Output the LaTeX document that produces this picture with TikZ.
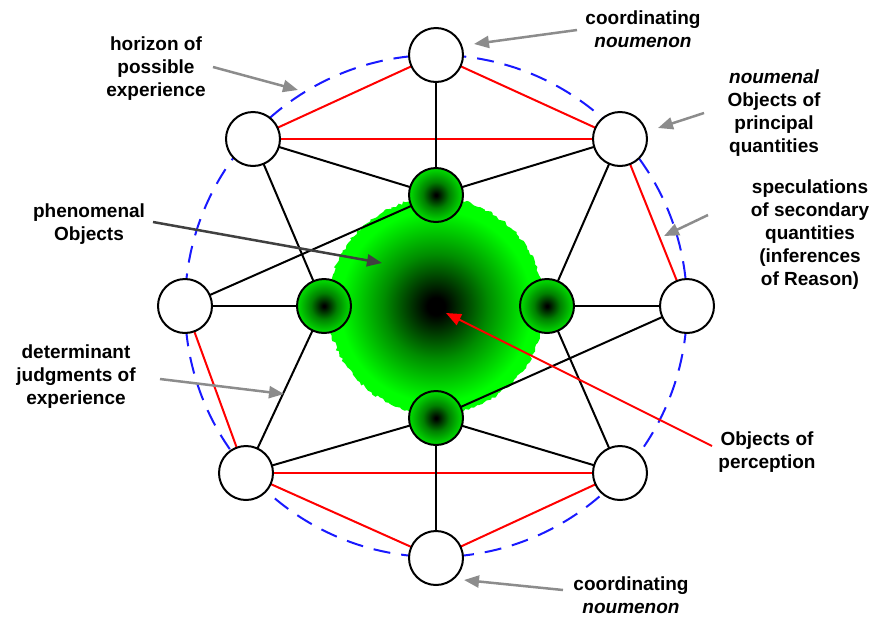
\documentclass[tikz,border=0pt]{standalone}
\usepackage{fontspec}
\setmainfont{Liberation Sans}
\usetikzlibrary{arrows.meta,decorations.pathmorphing}
\definecolor{ballgreen}{rgb}{0,0.85,0}
\definecolor{ballmid}{rgb}{0,0.5,0}
\definecolor{blobgreen}{rgb}{0,1,0}
\definecolor{blobmid}{rgb}{0,0.55,0}
\definecolor{arrgray}{rgb}{0.55,0.55,0.55}
\definecolor{darkgray2}{rgb}{0.25,0.25,0.25}
\definecolor{dblue}{rgb}{0.1,0.1,1}
\pgfdeclareradialshading{gball}{\pgfpoint{0bp}{0bp}}{color(0bp)=(black); color(1bp)=(black); color(12bp)=(ballmid); color(24bp)=(ballgreen); color(50bp)=(ballgreen)}
\pgfdeclareradialshading{blob}{\pgfpoint{0bp}{0bp}}{color(0bp)=(black); color(2bp)=(black); color(12bp)=(blobmid); color(22bp)=(blobgreen); color(50bp)=(blobgreen)}
\begin{document}
\begin{tikzpicture}[x=1pt,y=-1pt,
  wnode/.style={circle,draw=black,line width=2pt,fill=white,minimum size=54pt,inner sep=0pt},
  gnode/.style={circle,draw=black,line width=2pt,shading=gball,minimum size=54pt,inner sep=0pt},
  blk/.style={draw=black,line width=2pt},
  rd/.style={draw=red,line width=2pt},
  garrow/.style={draw=arrgray,line width=2.5pt,-{Triangle[length=15pt,width=12pt]}},
  lbl/.style={align=center,font=\fontsize{19}{23}\selectfont\bfseries,inner sep=0pt}]
\useasboundingbox (0,0) rectangle (873,619);
\coordinate (C) at (436,306);
% big blob
\shade[shading=blob,decorate,decoration={random steps,segment length=3pt,amplitude=1.5pt}] (C) circle[radius=108pt];
% horizon circle
\draw[dblue,line width=2pt,dash pattern=on 17pt off 11pt] (C) circle[radius=251pt];
\path (436,55) coordinate (pT) (436,558) coordinate (pB) (185,306) coordinate (pL) (687,306) coordinate (pR)
      (253,139) coordinate (pUL) (620,139) coordinate (pUR) (246,473) coordinate (pLL) (620,473) coordinate (pLR)
      (436,195) coordinate (pGT) (436,418) coordinate (pGB) (324,306) coordinate (pGL) (547,306) coordinate (pGR);
% red lines
\draw[rd] (pT) -- (pUL);
\draw[rd] (pT) -- (pUR);
\draw[rd] (pUL) -- (pUR);
\draw[rd] (pUR) -- (pR);
\draw[rd] (pL) -- (pLL);
\draw[rd] (pLL) -- (pLR);
\draw[rd] (pLL) -- (pB);
\draw[rd] (pLR) -- (pB);
% black lines
\draw[blk] (pT) -- (pGT);
\draw[blk] (pB) -- (pGB);
\draw[blk] (pL) -- (pGL);
\draw[blk] (pR) -- (pGR);
\draw[blk] (pUL) -- (pGT);
\draw[blk] (pUR) -- (pGT);
\draw[blk] (pL) -- (pGT);
\draw[blk] (pUL) -- (pGL);
\draw[blk] (pLL) -- (pGL);
\draw[blk] (pUR) -- (pGR);
\draw[blk] (pLR) -- (pGR);
\draw[blk] (pLL) -- (pGB);
\draw[blk] (pLR) -- (pGB);
\draw[blk] (pR) -- (pGB);
% circles
\node[wnode] (T) at (pT) {};
\node[wnode] (B) at (pB) {};
\node[wnode] (L) at (pL) {};
\node[wnode] (R) at (pR) {};
\node[wnode] (UL) at (pUL) {};
\node[wnode] (UR) at (pUR) {};
\node[wnode] (LL) at (pLL) {};
\node[wnode] (LR) at (pLR) {};
\node[gnode] (GT) at (pGT) {};
\node[gnode] (GB) at (pGB) {};
\node[gnode] (GL) at (pGL) {};
\node[gnode] (GR) at (pGR) {};
% labels
\node[lbl] (lt) at (643,29) {coordinating\\\itshape noumenon};
\node[lbl] (lb) at (631,595) {coordinating\\\itshape noumenon};
\node[lbl] (lh) at (156,69) {horizon of\\possible\\experience};
\node[lbl] (ln) at (774,113) {\itshape noumenal\\Objects of\\principal\\quantities};
\node[lbl] (ls) at (810,235) {speculations\\of secondary\\quantities\\(inferences\\of Reason)};
\node[lbl] (lp) at (89,224) {phenomenal\\Objects};
\node[lbl] (ld) at (76,377) {determinant\\judgments of\\experience};
\node[lbl] (lo) at (767,452) {Objects of\\perception};
% arrow end points
\coordinate (at1) at (577,30);  \coordinate (at2) at (474,44);
\coordinate (ab1) at (563,590); \coordinate (ab2) at (464,580);
\coordinate (ah1) at (213,67);  \coordinate (ah2) at (298,90);
\coordinate (an1) at (704,113); \coordinate (an2) at (658,128);
\coordinate (as1) at (708,215); \coordinate (as2) at (664,236);
\coordinate (ap1) at (153,222); \coordinate (ap2) at (382,263);
\coordinate (ad1) at (160,379); \coordinate (ad2) at (284,394);
\coordinate (ao1) at (712,446); \coordinate (ao2) at (446,313);
\draw[garrow] (at1) -- (at2);
\draw[garrow] (ab1) -- (ab2);
\draw[garrow] (ah1) -- (ah2);
\draw[garrow] (an1) -- (an2);
\draw[garrow] (as1) -- (as2);
\draw[garrow] (ad1) -- (ad2);
\draw[garrow,draw=darkgray2] (ap1) -- (ap2);
\draw[garrow,draw=red,line width=2pt] (ao1) -- (ao2);
\end{tikzpicture}
\end{document}
